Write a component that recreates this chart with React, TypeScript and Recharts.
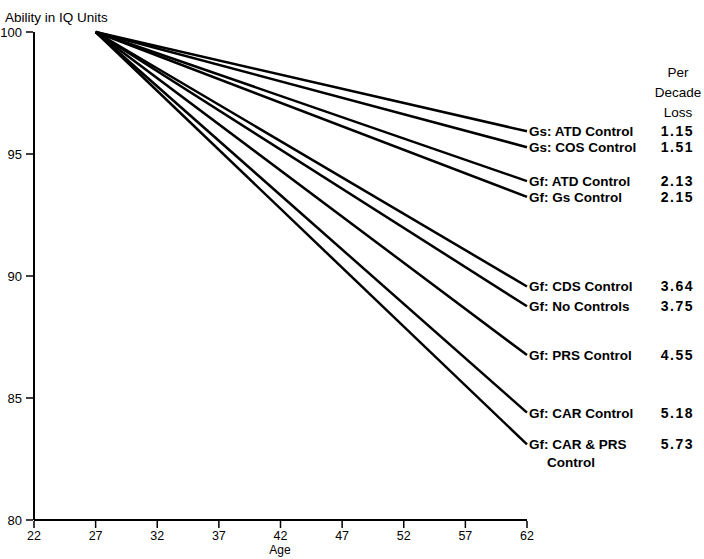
import { Line, LineChart, XAxis, YAxis, Customized } from "recharts"

const ages = [27, 62]
const seriesNames = [
  "Gs: ATD Control",
  "Gs: COS Control",
  "Gf: ATD Control",
  "Gf: Gs Control",
  "Gf: CDS Control",
  "Gf: No Controls",
  "Gf: PRS Control",
  "Gf: CAR Control",
  "Gf: CAR & PRS",
]
const losses = ["1.15", "1.51", "2.13", "2.15", "3.64", "3.75", "4.55", "5.18", "5.73"]
const startValues = [100, 100, 100, 100, 100, 100, 100, 100, 100]
const endValues = [95.93, 95.28, 93.89, 93.24, 89.57, 88.76, 86.76, 84.4, 83.1]
const xTicks = [22, 27, 32, 37, 42, 47, 52, 57, 62]
const yTicks = [80, 85, 90, 95, 100]

const data = ages.map((age, i) => {
  const row: Record<string, number> = { age }
  seriesNames.forEach((_, s) => {
    row["s" + s] = i === 0 ? startValues[s] : endValues[s]
  })
  return row
})

const font = "'Liberation Sans', Arial, Helvetica, sans-serif"

const XTick = (props: any) => {
  const { x, y, payload } = props
  return (
    <g>
      <line x1={x} y1={y} x2={x} y2={y - 7} stroke="#000" strokeWidth={1.5} />
      <text x={x} y={y + 12} textAnchor="middle" fontSize={12.5} fontFamily={font} fill="#000">
        {payload.value}
      </text>
    </g>
  )
}

const YTick = (props: any) => {
  const { x, y, payload } = props
  return (
    <g>
      <line x1={x} y1={y} x2={x + 7} y2={y} stroke="#000" strokeWidth={1.5} />
      <text x={x - 4} y={y + 5} textAnchor="end" fontSize={13} fontFamily={font} fill="#000">
        {payload.value}
      </text>
    </g>
  )
}

const makeLabel = (s: number) => (props: any) => {
  const { x, y, index } = props
  if (index !== 1) return null
  return (
    <g key={"lab" + s} fontFamily={font} fontWeight="bold" fontSize={13.5} fill="#000">
      <text x={x + 2} y={y + 5}>{seriesNames[s]}</text>
      <text x={694} y={y + 5} textAnchor="end" fontSize={14} letterSpacing={1.5}>{losses[s]}</text>
      {s === seriesNames.length - 1 && <text x={x + 20} y={y + 23}>Control</text>}
    </g>
  )
}

const Extras = () => (
  <g fontFamily={font} fill="#000" fontSize={13.5}>
    <text x={5} y={22}>Ability in IQ Units</text>
    <text x={280} y={554} textAnchor="middle" fontSize={12}>Age</text>
    <text x={678} y={77} textAnchor="middle">Per</text>
    <text x={678} y={97} textAnchor="middle">Decade</text>
    <text x={678} y={117} textAnchor="middle">Loss</text>
  </g>
)

export default function App() {
  return (
    <div style={{ position: "absolute", left: 0, top: 0, background: "#fff" }}>
      <LineChart width={704} height={559} data={data} margin={{ top: 32, right: 177, bottom: 0, left: 0 }}>
        <XAxis
          dataKey="age"
          type="number"
          domain={[22, 62]}
          ticks={xTicks}
          interval={0}
          tickLine={false}
          tick={<XTick />}
          axisLine={{ stroke: "#000", strokeWidth: 2 }}
          height={39}
        />
        <YAxis
          type="number"
          domain={[80, 100]}
          ticks={yTicks}
          interval={0}
          tickLine={false}
          tick={<YTick />}
          axisLine={{ stroke: "#000", strokeWidth: 2 }}
          width={34}
        />
        {seriesNames.map((name, s) => (
          <Line
            key={name}
            dataKey={"s" + s}
            name={name}
            stroke="#000"
            strokeWidth={2.5}
            dot={false}
            isAnimationActive={false}
            label={makeLabel(s)}
          />
        ))}
        <Customized component={<Extras />} />
      </LineChart>
    </div>
  )
}
